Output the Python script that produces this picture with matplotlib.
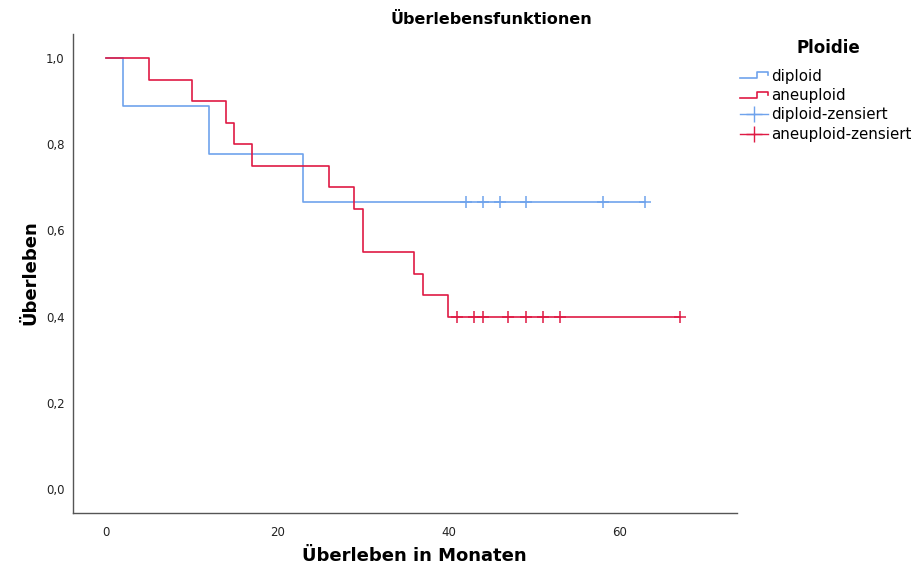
import numpy as np
import matplotlib
matplotlib.use("Agg")
import matplotlib.pyplot as plt
from matplotlib.lines import Line2D
from matplotlib.legend_handler import HandlerBase
from matplotlib.ticker import FuncFormatter

# ---- data ----
diploid_times = [0, 2, 12, 23, 63]
diploid_surv = [1.0, 8/9, 7/9, 6/9, 6/9]
diploid_censored = [42, 44, 46, 49, 58, 63]

aneuploid_times = [0, 5, 10, 14, 15, 17, 26, 29, 30, 36, 37, 40, 67]
aneuploid_surv = [1.0, 0.95, 0.90, 0.85, 0.80, 0.75, 0.70, 0.65, 0.55, 0.50, 0.45, 0.40, 0.40]
aneuploid_censored = [41, 43, 44, 47, 49, 51, 53, 67]

x_ticks = [0, 20, 40, 60]
y_ticks = [0.0, 0.2, 0.4, 0.6, 0.8, 1.0]

title = "Überlebensfunktionen"
x_label = "Überleben in Monaten"
y_label = "Überleben"
legend_title = "Ploidie"
labels = ["diploid", "aneuploid", "diploid-zensiert", "aneuploid-zensiert"]

BLUE = "#6fa3ec"
RED = "#df1a44"

plt.rcParams['font.family'] = ['DejaVu Sans']

fig = plt.figure(figsize=(9.19, 5.72), dpi=100)
ax = fig.add_axes([73/919, 1-513/572, (737-73)/919, (513-34)/572])


def surv_at(times, surv, t):
    idx = np.searchsorted(times, t, side='right') - 1
    return np.asarray(surv)[idx]


ax.step(diploid_times, diploid_surv, where='post', color=BLUE, lw=1.2)
ax.step(aneuploid_times, aneuploid_surv, where='post', color=RED, lw=1.2)
ax.plot(diploid_censored, surv_at(diploid_times, diploid_surv, diploid_censored),
        ls='none', marker='+', ms=8, mew=1.1, color=BLUE)
ax.plot(aneuploid_censored, surv_at(aneuploid_times, aneuploid_surv, aneuploid_censored),
        ls='none', marker='+', ms=8, mew=1.1, color=RED)

ax.set_xlim(-3.86, 73.7)
ax.set_ylim(-0.056, 1.056)
ax.set_xticks(x_ticks)
ax.set_yticks(y_ticks)
ax.yaxis.set_major_formatter(FuncFormatter(lambda v, p: f"{v:.1f}".replace('.', ',')))
ax.tick_params(length=0, labelsize=8.5, colors='#222222')
ax.tick_params(axis='x', pad=9)
ax.tick_params(axis='y', pad=6)
for s in ['top', 'right']:
    ax.spines[s].set_visible(False)
for s in ['left', 'bottom']:
    ax.spines[s].set_color('#555555')
    ax.spines[s].set_linewidth(1.0)

fig.text(491/919, 1-19/572, title, ha='center', va='center', fontsize=11.5, fontweight='bold')
fig.text(414/919, 1-556/572, x_label, ha='center', va='center', fontsize=13, fontweight='bold')
fig.text(30/919, 1-273/572, y_label, ha='center', va='center', rotation=90, fontsize=13, fontweight='bold')
fig.text(828/919, 1-48/572, legend_title, ha='center', va='center', fontsize=12, fontweight='bold')


class StepHandler(HandlerBase):
    def create_artists(self, legend, orig_handle, xdescent, ydescent, width, height, fontsize, trans):
        x0 = -xdescent
        y0 = -ydescent + height * 0.2
        y1 = -ydescent + height * 0.8
        xs = [x0, x0 + width * 0.6, x0 + width * 0.6, x0 + width, x0 + width]
        ys = [y0, y0, y1, y1, (y0 + y1) / 2]
        ln = Line2D(xs, ys, color=orig_handle.get_color(), lw=1.2, transform=trans)
        return [ln]


h1 = Line2D([], [], color=BLUE)
h2 = Line2D([], [], color=RED)
h3 = Line2D([], [], color=BLUE, marker='+', ms=12, mew=1.0, lw=1.0)
h4 = Line2D([], [], color=RED, marker='+', ms=12, mew=1.0, lw=1.0)

leg = fig.legend([h1, h2, h3, h4], labels, loc='upper left',
                 bbox_to_anchor=(740/919, 1-68.5/572), frameon=False,
                 fontsize=10.8, handlelength=1.85, handletextpad=0.25,
                 labelspacing=0.3, borderaxespad=0, borderpad=0,
                 handler_map={h1: StepHandler(), h2: StepHandler()})

fig.savefig('out.png', dpi=100)
